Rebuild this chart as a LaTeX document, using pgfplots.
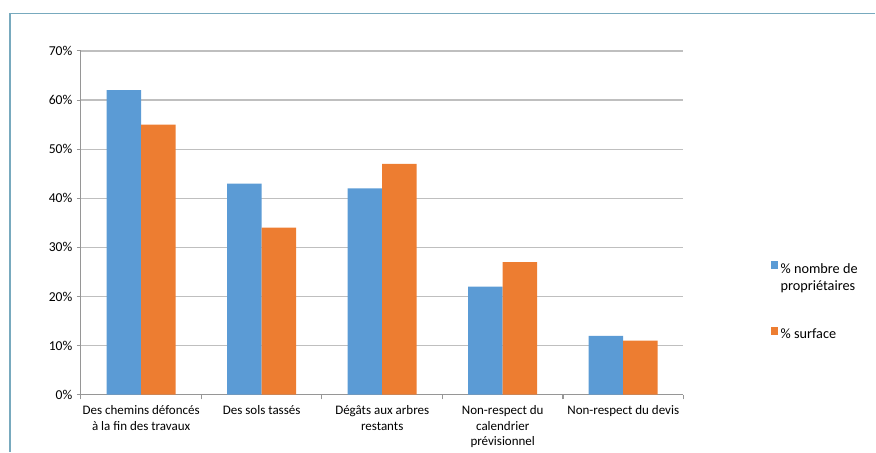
\documentclass[border=0pt]{standalone}
\usepackage{pgfplots}
\pgfplotsset{compat=1.18}
\usepackage{fontspec}
\setmainfont{Carlito}
\definecolor{barblue}{RGB}{91,155,213}
\definecolor{barorange}{RGB}{237,125,49}
\definecolor{gridgray}{RGB}{191,191,191}
\definecolor{axisgray}{RGB}{150,150,150}
\definecolor{framecol}{RGB}{120,170,190}
\pgfplotsset{sq legend/.style={legend image code/.code={\fill[##1] (0pt,0.2pt) rectangle (5.6pt,5.8pt);}}}
\begin{document}
\fontsize{9.75pt}{11.6pt}\selectfont
\begin{tikzpicture}
\path (0,0) rectangle (657pt,339pt);
\draw[framecol, line width=1pt] (7.5pt,0pt) -- (7.5pt,328.9pt) -- (657pt,328.9pt);
\begin{axis}[
  at={(60.75pt,42.75pt)}, anchor=south west,
  scale only axis, width=452.25pt, height=258pt,
  ybar=0pt, bar width=25.9pt,
  xmin=-0.5, xmax=4.5, ymin=0, ymax=70,
  axis x line*=bottom, axis y line*=left,
  axis line style={draw=axisgray, line width=0.8pt},
  ytick={0,10,...,70},
  yticklabels={0\%,10\%,20\%,30\%,40\%,50\%,60\%,70\%},
  ymajorgrids, grid style={draw=gridgray, line width=0.9pt},
  tick align=outside, major tick length=3pt,
  tick style={draw=axisgray, line width=0.8pt},
  xtick={0,1,2,3,4},
  major x tick style={draw=none},
  xticklabels={{Des chemins défoncés\\à la fin des travaux},{Des sols tassés},{Dégâts aux arbres\\restants},{Non-respect du\\calendrier\\prévisionnel},{Non-respect du devis}},
  xticklabel style={align=center, yshift=-2pt, font=\fontsize{9.75pt}{11.6pt}\selectfont},
  yticklabel style={font=\fontsize{10.2pt}{12pt}\selectfont},
  extra x ticks={-0.5,0.5,1.5,2.5,3.5,4.5},
  extra x tick labels={},
  extra x tick style={grid=none, major x tick style={draw=axisgray, line width=0.8pt}, major tick length=3.5pt},
  legend style={at={(rel axis cs:1.144,0.395)}, anchor=north west, draw=none, fill=none,
    inner sep=0pt, row sep=36pt, font=\fontsize{10.7pt}{12.8pt}\selectfont},
  legend cell align=left,
]
\addplot[fill=barblue, draw=none, sq legend] coordinates {(0,62) (1,43) (2,42) (3,22) (4,12)};
\addlegendentry{\begin{tabular}[t]{@{}l@{}}\% nombre de\\propriétaires\end{tabular}}
\addplot[fill=barorange, draw=none, sq legend] coordinates {(0,55) (1,34) (2,47) (3,27) (4,11)};
\addlegendentry{\% surface}
\end{axis}
\end{tikzpicture}
\end{document}
